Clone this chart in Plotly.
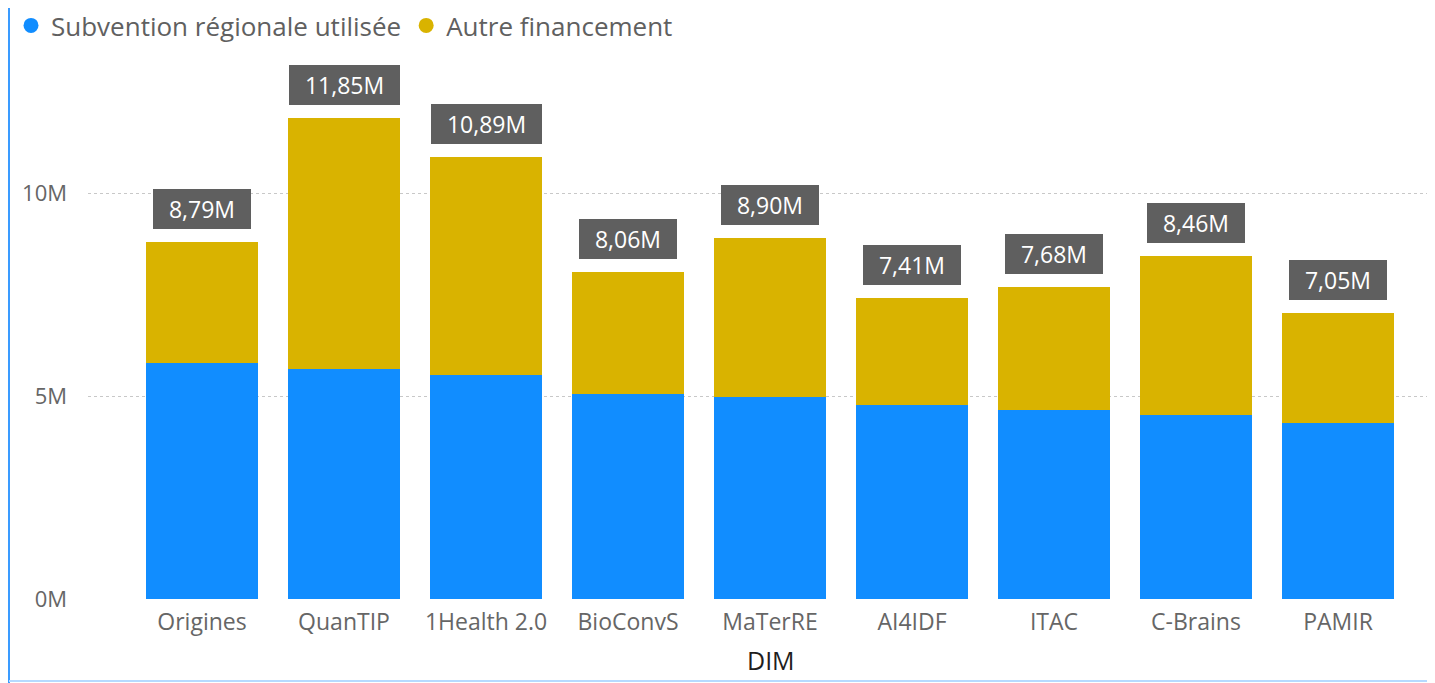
import plotly.graph_objects as go

categories = ["Origines", "QuanTIP", "1Health 2.0", "BioConvS", "MaTerRE",
              "AI4IDF", "ITAC", "C-Brains", "PAMIR"]
subvention = [5.81, 5.67, 5.52, 5.05, 4.98, 4.78, 4.66, 4.53, 4.33]  # M
totals = [8.79, 11.85, 10.89, 8.06, 8.90, 7.41, 7.68, 8.46, 7.05]     # M
autre = [round(t - s, 2) for t, s in zip(totals, subvention)]
series_names = ["Subvention régionale utilisée", "Autre financement"]
y_tickvals = [0, 5, 10]
y_ticktext = ["0M", "5M", "10M"]
x_title = "DIM"

BLUE = "#118DFF"
GOLD = "#D9B300"
FONT = "Open Sans"

# page body has an 8px default margin
W, H = 1427, 675
ML, MR, MT, MB = 80, 2, 52, 84
pw = W - ML - MR
ph = H - MT - MB

fig = go.Figure()
fig.add_trace(go.Bar(x=categories, y=subvention, name=series_names[0],
                     marker=dict(color=BLUE, line=dict(width=0)), showlegend=False,
                     hoverinfo="skip"))
fig.add_trace(go.Bar(x=categories, y=autre, name=series_names[1],
                     marker=dict(color=GOLD, line=dict(width=0)), showlegend=False,
                     hoverinfo="skip"))
# legend entries with circular markers
for nm, col in zip(series_names, [BLUE, GOLD]):
    fig.add_trace(go.Scatter(x=[None], y=[None], mode="markers", name=nm,
                             marker=dict(color=col, size=15, symbol="circle")))

for c, t in zip(categories, totals):
    lbl = f"{t:.2f}".replace(".", ",") + "M"
    fig.add_annotation(x=c, y=t, xref="x", yref="y", yanchor="bottom",
                       yshift=13, showarrow=False,
                       text="\u00a0\u00a0" + lbl + "\u00a0\u00a0",
                       font=dict(family=FONT, size=23, color="white"),
                       bgcolor="#5F5F5F", bordercolor="#5F5F5F", borderwidth=1,
                       borderpad=3)

# x axis title
fig.add_annotation(text=x_title, xref="paper", yref="paper",
                   x=(763 - ML) / pw, y=-(652 - (MT + ph)) / ph,
                   xanchor="center", yanchor="middle", showarrow=False,
                   font=dict(family=FONT, size=25, color="#1F1E1D"))

# frame lines of the visual (left and bottom)
fig.add_shape(type="line", xref="paper", yref="paper",
              x0=(1 - ML) / pw, x1=(1 - ML) / pw, y0=-MB / ph, y1=(ph + MT) / ph,
              line=dict(color="#3A9BFF", width=2))
fig.add_shape(type="line", xref="paper", yref="paper",
              x0=(1 - ML) / pw, x1=1 + MR / pw, y0=(-MB + 2) / ph, y1=(-MB + 2) / ph,
              line=dict(color="#B5DAFF", width=2))

fig.update_layout(
    width=W, height=H,
    margin=dict(l=ML, r=MR, t=MT, b=MB, autoexpand=False),
    barmode="stack", bargap=0.21,
    plot_bgcolor="white", paper_bgcolor="white",
    font=dict(family=FONT, color="#666666"),
    legend=dict(orientation="h", x=(3 - ML) / pw, y=1 + (MT + 6) / ph,
                xanchor="left", yanchor="top", traceorder="normal",
                font=dict(family=FONT, size=26, color="#606060"),
                itemwidth=30, tracegroupgap=0, bgcolor="rgba(0,0,0,0)"),
    xaxis=dict(range=[-0.803, 8.669], showgrid=False, zeroline=False,
               showline=False, ticks="", ticklabelstandoff=7,
               tickfont=dict(family=FONT, size=23, color="#666666")),
    yaxis=dict(range=[0, ph / 40.6], tickvals=y_tickvals, ticktext=y_ticktext,
               showgrid=True, gridcolor="#C8C8C8", griddash="dot", gridwidth=1,
               zeroline=False, showline=False, ticks="", ticklabelstandoff=20,
               tickfont=dict(family=FONT, size=22, color="#666666")),
)

fig.write_html("out.html")
